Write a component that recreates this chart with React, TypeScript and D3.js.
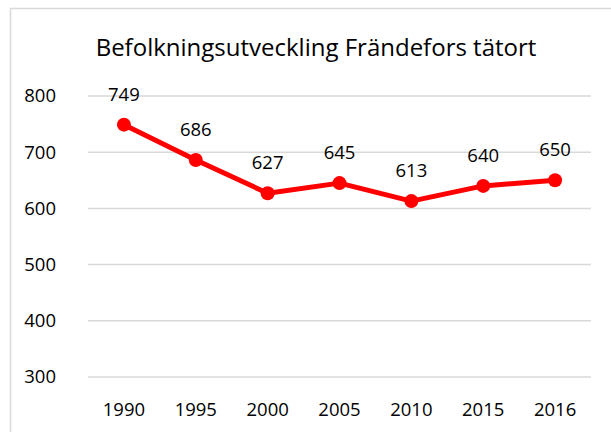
import React from "react";
import * as d3 from "d3";

const years = ["1990", "1995", "2000", "2005", "2010", "2015", "2016"];
const population = [749, 686, 627, 645, 613, 640, 650];
const yTicks = [300, 400, 500, 600, 700, 800];
const title = "Befolkningsutveckling Frändefors tätort";

export default function App() {
  const W = 611, H = 432;
  const x = d3.scaleBand<string>().domain(years).range([88, 591]);
  const y = d3.scaleLinear().domain([300, 800]).range([377, 96]);
  const line = d3
    .line<number>()
    .x((_, i) => (x(years[i]) as number) + x.bandwidth() / 2)
    .y((d) => y(d));
  const font = "'Open Sans', sans-serif";
  return (
    <svg width={W} height={H} style={{ position: "absolute", left: 0, top: 0, background: "#fff" }} fontFamily={font}>
      <rect x={10.5} y={8.5} width={W + 10} height={H + 10} fill="#fff" stroke="#d9d9d9" strokeWidth={1.5} />
      <text x={316} y={56} textAnchor="middle" fontSize={24} fill="#000">{title}</text>
      {yTicks.map((t) => (
        <g key={t}>
          <line x1={88} x2={591} y1={y(t)} y2={y(t)} stroke="#d9d9d9" strokeWidth={1.5} />
          <text x={56} y={y(t)} dy="0.35em" textAnchor="end" fontSize={18.5} fill="#000">{t}</text>
        </g>
      ))}
      {years.map((yr) => (
        <text key={yr} x={(x(yr) as number) + x.bandwidth() / 2} y={410} dy="0.35em" textAnchor="middle" fontSize={18.5} fill="#000">{yr}</text>
      ))}
      <path d={line(population) || ""} fill="none" stroke="#ff0000" strokeWidth={5} strokeLinejoin="round" />
      {population.map((v, i) => {
        const cx = (x(years[i]) as number) + x.bandwidth() / 2;
        return (
          <g key={i}>
            <circle cx={cx} cy={y(v)} r={7} fill="#ff0000" />
            <text x={cx} y={y(v) - 24} textAnchor="middle" fontSize={18.5} fill="#000">{v}</text>
          </g>
        );
      })}
    </svg>
  );
}
